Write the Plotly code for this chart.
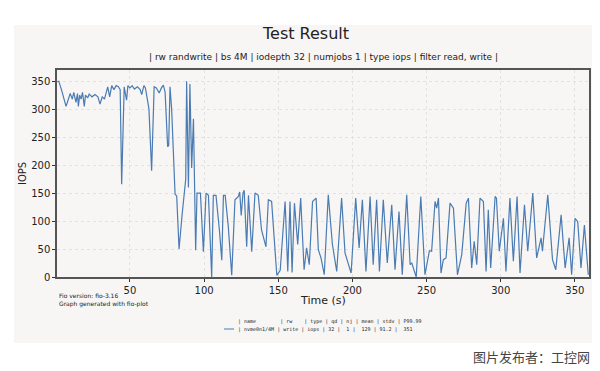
import plotly.graph_objects as go

# ---- data ----
times = [1, 2, 3.8, 6.9, 9.7, 11.1, 12.1, 13.6, 14.6, 15.2, 16.1, 17, 18, 19.2, 20, 21.5, 22.5, 24.4, 26.4, 28.4,
         29.8, 31.3, 32.8, 35, 36.3, 37.7, 39.2, 40.7, 42.2, 43.4, 44.4, 46.1, 47.7, 48.6, 50, 51.5, 53, 55, 56.9,
         57.9, 59.4, 60.4, 61.7, 62.8, 64.6, 66.3, 67.8, 69.7, 71.2, 72.5, 73.7, 75.4, 76.1, 77, 78.1, 80.4, 81.5,
         83.1, 85.1, 87.6, 88.2, 89.4, 90.4, 91.6, 92.8, 93.6, 94.3, 95.2, 97.5, 99.5, 101.3, 102.9, 105.1, 106.2,
         108, 110.3, 111.9, 113, 114.2, 116.3, 118.6, 120.8, 123.1, 124, 125, 126.2, 127, 128.7, 129.9, 132.1,
         134.3, 136.5, 138.7, 141.7, 143.3, 145.5, 149, 151.3, 154.6, 156.4, 157.9, 159.3, 160.9, 163.1, 165.1,
         167.4, 169.1, 170.9, 173.1, 175.5, 177, 178.8, 181, 183.7, 186.5, 189.4, 192.7, 195, 196.7, 199.1, 202.2,
         204.5, 206.7, 209.1, 211.9, 214, 216.3, 218.2, 220.8, 223.5, 226.5, 228.7, 231.4, 233.6, 236.6, 238.9,
         240, 243, 246.1, 248.9, 251.9, 253.4, 255.7, 256.8, 258, 259.7, 261.3, 263.1, 265.8, 268.1, 270.8, 273.7,
         276.7, 278.2, 280.4, 282.1, 283.8, 286, 288.3, 290.1, 291.6, 293.2, 296.2, 297.1, 299, 301.8, 303.5,
         306.2, 308.5, 311, 313, 316, 318.2, 321.6, 324.2, 327.2, 328.1, 331.7, 334.9, 337.1, 340.7, 343.4, 346.1,
         347.8, 350.1, 351.9, 354.1, 356.4, 359]
iops = [349, 350, 335, 305, 328, 318, 330, 312, 328, 305, 325, 318, 330, 305, 325, 320, 327, 322, 326, 322,
        309, 322, 318, 340, 322, 342, 335, 342, 340, 335, 166, 340, 316, 342, 338, 342, 336, 340, 335,
        326, 342, 338, 318, 300, 190, 340, 338, 329, 338, 343, 330, 233, 235, 340, 300, 148, 145,
        50, 110, 175, 350, 160, 345, 195, 283, 150, 48, 150, 150, 45, 150, 146, 0, 146,
        146, 84, 30, 146, 146, 90, 3, 138, 144, 152, 110, 150, 155, 54, 146, 45,
        150, 146, 84, 54, 138, 135, 3, 12, 135, 10, 135, 8, 132, 58, 141,
        13, 52, 22, 135, 141, 49, 34, 4, 147, 58, 10, 141, 43, 28, 7, 141,
        52, 138, 10, 144, 22, 138, 10, 138, 25, 129, 13, 117, 4, 147, 22,
        25, 0, 144, 4, 47, 46, 135, 123, 141, 7, 31, 34, 132, 123, 4, 40,
        132, 141, 16, 64, 22, 141, 135, 10, 120, 16, 144, 141, 46, 105, 10,
        141, 28, 144, 7, 129, 46, 150, 34, 70, 46, 147, 31, 13, 111, 16, 70,
        4, 105, 99, 16, 93, 4]

y_ticks = [0, 50, 100, 150, 200, 250, 300, 350]
x_ticks = [50, 100, 150, 200, 250, 300, 350]

title = "Test Result"
subtitle = "| rw randwrite | bs 4M | iodepth 32 | numjobs 1 | type iops | filter read, write |"
table_header = "| name        | rw    | type | qd | nj | mean | stdv | P99.99"
table_row = "| nvme0n1/4M | write | iops | 32 |  1 |  129 | 91.2 |  351"
watermark = "图片发布者：工控网"

# ---- layout geometry (pixels) ----
W, H = 600, 371
L, R, T, B = 57, 589, 70, 277
pw, ph = R - L, B - T


def fx(x):
    return (x - L) / pw


def fy(y):
    return (B - y) / ph


fig = go.Figure()
fig.add_trace(go.Scatter(x=times, y=iops, mode="lines",
                         line=dict(color="#4a7bb2", width=1.2), showlegend=False, hoverinfo="skip"))

font = "DejaVu Sans, Liberation Sans, sans-serif"
axis_common = dict(ticks="outside", ticklen=3, tickcolor="#333",
                   showgrid=True, gridcolor="#e2e2e2", griddash="dot", gridwidth=1,
                   showline=True, linecolor="#555", linewidth=1.5, mirror=True, zeroline=False,
                   tickfont=dict(size=10, color="#222"), automargin=False)
fig.update_layout(
    width=W, height=H,
    margin=dict(l=L, r=W - R, t=T, b=H - B, autoexpand=False),
    paper_bgcolor="white",
    plot_bgcolor="#fdfcfb",
    font=dict(family=font, color="#222"),
    xaxis=dict(range=[0.8, 359.5], tickvals=x_ticks, **axis_common),
    yaxis=dict(range=[0, 370], tickvals=y_ticks, **axis_common),
)

# light background card behind the chart
fig.add_shape(type="rect", xref="paper", yref="paper", layer="below",
              x0=fx(14), x1=fx(592), y0=fy(343), y1=fy(25),
              fillcolor="#f8f6f4", line=dict(width=0))

ann = [
    dict(text=title, x=fx(305), y=fy(33), font=dict(size=16, color="#222")),
    dict(text=subtitle, x=fx(323), y=fy(57), font=dict(size=9, color="#222")),
    dict(text="IOPS", x=fx(22), y=fy(174), textangle=-90, font=dict(size=10, color="#222")),
    dict(text="Time (s)", x=fx(323), y=fy(300), font=dict(size=11, color="#222")),
    dict(text="Fio version: fio-3.16<br>Graph generated with fio-plot", x=fx(57), y=fy(300),
         xanchor="left", align="left", font=dict(size=6, color="#222")),
    dict(text=table_header.replace(" ", "&nbsp;"), x=fx(236), y=fy(321), xanchor="left",
         font=dict(size=5, family="DejaVu Sans Mono, monospace", color="#222")),
    dict(text=table_row.replace(" ", "&nbsp;"), x=fx(236), y=fy(329), xanchor="left",
         font=dict(size=5, family="DejaVu Sans Mono, monospace", color="#222")),
    dict(text=watermark, x=fx(592), y=fy(356), xanchor="right",
         font=dict(size=13, family="Noto Sans CJK SC", color="#444")),
]
for a in ann:
    a.setdefault("xanchor", "center")
    fig.add_annotation(xref="paper", yref="paper", yanchor="middle", showarrow=False, **a)

fig.add_shape(type="line", xref="paper", yref="paper", x0=fx(224), x1=fx(234), y0=fy(329), y1=fy(329),
              line=dict(color="#4a7bb2", width=1))

fig.write_html("out.html", config={"displayModeBar": False},
               post_script="document.body.style.margin='0';document.body.style.overflow='hidden';")
